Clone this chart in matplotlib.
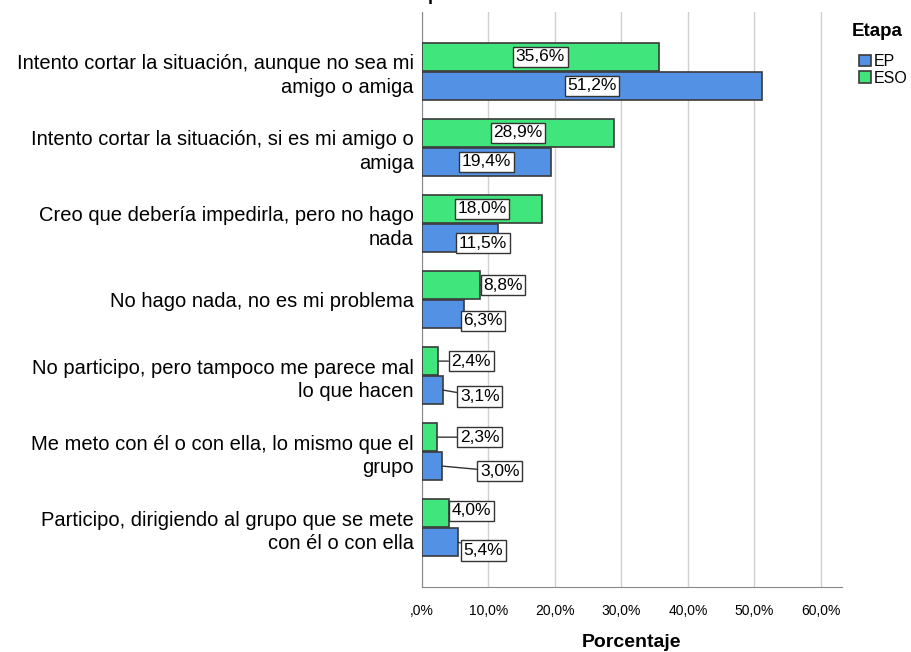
import matplotlib
matplotlib.use("Agg")
from matplotlib import pyplot as plt
import numpy as np

plt.rcParams['font.family'] = ['Liberation Sans', 'DejaVu Sans']

categories = [
    "Intento cortar la situación, aunque no sea mi\namigo o amiga",
    "Intento cortar la situación, si es mi amigo o\namiga",
    "Creo que debería impedirla, pero no hago\nnada",
    "No hago nada, no es mi problema",
    "No participo, pero tampoco me parece mal\nlo que hacen",
    "Me meto con él o con ella, lo mismo que el\ngrupo",
    "Participo, dirigiendo al grupo que se mete\ncon él o con ella",
]
ep = [51.2, 19.4, 11.5, 6.3, 3.1, 3.0, 5.4]
eso = [35.6, 28.9, 18.0, 8.8, 2.4, 2.3, 4.0]
xticks = [0, 10, 20, 30, 40, 50, 60]
xtick_labels = [",0%", "10,0%", "20,0%", "30,0%", "40,0%", "50,0%", "60,0%"]

# label placement (x in data units, y offset in bar units) for small bars
eso_lab = [None, None, None, (12.2, 0.0), (7.4, 0.0), (8.7, 0.0), (7.4, -0.03)]
ep_lab = [None, None, (9.2, 0.07), (9.2, 0.09), (8.7, 0.085), (11.7, 0.07), (9.2, 0.11)]

c_ep = '#5391e4'
c_eso = '#40e67b'
edge = '#3a3a3a'

fig = plt.figure(figsize=(9.12, 6.52), dpi=100)
ax = fig.add_axes([422 / 912, 1 - 587 / 652, 420 / 912, 575 / 652])

y = np.arange(len(categories))
h = 0.37
off = 0.19
ax.barh(y - off, eso, height=h, color=c_eso, edgecolor=edge, linewidth=1.2, label='ESO', zorder=3)
ax.barh(y + off, ep, height=h, color=c_ep, edgecolor=edge, linewidth=1.2, label='EP', zorder=3)

box = dict(boxstyle='square,pad=0.15', fc='white', ec='#333333', lw=1.0)


def put_labels(vals, ypos, places):
    for v, yy, p in zip(vals, ypos, places):
        txt = f"{v:.1f}%".replace('.', ',')
        if p is None:
            ax.text(v / 2, yy, txt, ha='center', va='center', fontsize=12.5,
                    bbox=box, zorder=5)
        else:
            ax.annotate(txt, xy=(v, yy), xytext=(p[0], yy + p[1]),
                        ha='center', va='center', fontsize=12.5, bbox=box,
                        arrowprops=dict(arrowstyle='-', color='#333333', lw=1.0,
                                        shrinkA=0, shrinkB=0),
                        zorder=5)


put_labels(eso, y - off, eso_lab)
put_labels(ep, y + off, ep_lab)

ax.set_ylim(len(categories) - 1 + 0.78, -0.78)
ax.set_xlim(0, 63.2)
ax.set_yticks(y)
ax.set_yticklabels(categories, fontsize=14.5, ha='right', linespacing=1.3)
ax.set_xticks(xticks)
ax.set_xticklabels(xtick_labels, fontsize=10)
ax.tick_params(length=0, pad=12)
ax.tick_params(axis='y', pad=6)
ax.grid(axis='x', color='#d0d0d0', lw=1.0, zorder=0)
for s in ['top', 'right']:
    ax.spines[s].set_visible(False)
for s in ['left', 'bottom']:
    ax.spines[s].set_color('#888888')
ax.set_xlabel('Porcentaje', fontsize=14, fontweight='bold', labelpad=12)

handles, labels = ax.get_legend_handles_labels()
fig.text(852 / 912, 1 - 31 / 652, 'Etapa', fontsize=13.5, fontweight='bold',
         ha='left', va='center')
leg = ax.legend(handles[::-1], labels[::-1], loc='upper left',
                bbox_to_anchor=(851 / 912, 1 - 46 / 652), bbox_transform=fig.transFigure,
                frameon=False, fontsize=11.5, handlelength=0.75, handleheight=0.75,
                handletextpad=0.15, labelspacing=0.1, borderpad=0)

# remnant of a title cut off at the top edge
fig.text(428 / 912, 1.0, 'p', fontsize=13, fontweight='bold', va='baseline')

fig.savefig('out.png', dpi=100)
